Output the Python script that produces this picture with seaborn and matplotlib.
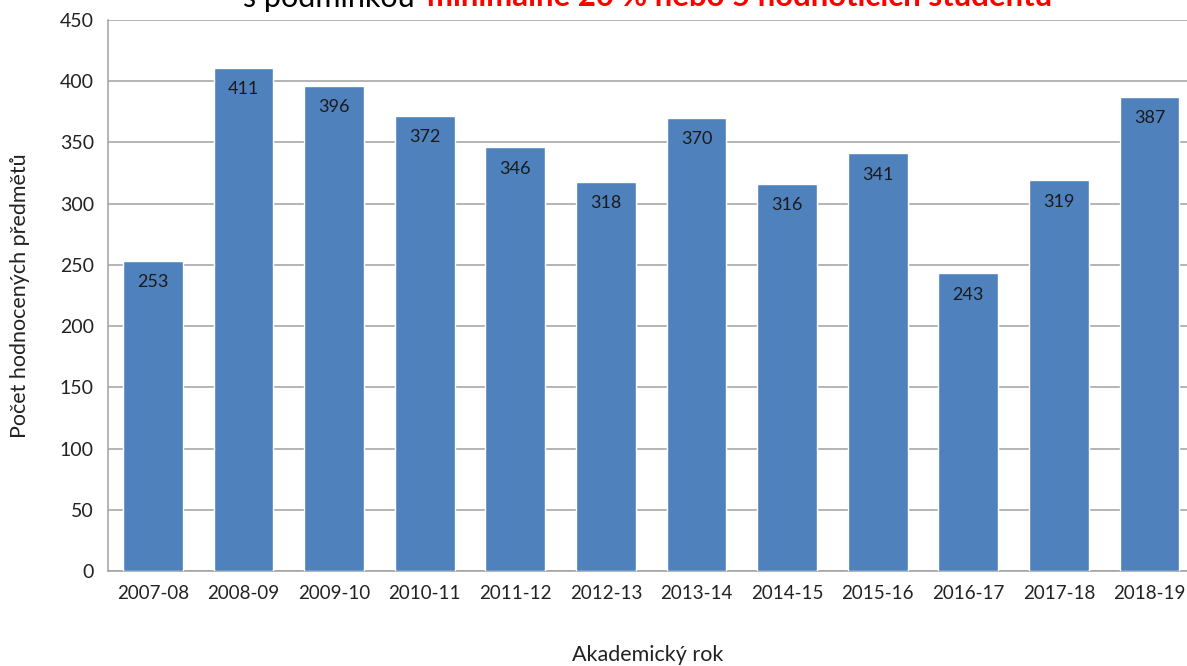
import matplotlib
matplotlib.use("Agg")
import matplotlib.pyplot as plt
import seaborn as sns
import pandas as pd
import numpy as np

# data
years = ['2007-08', '2008-09', '2009-10', '2010-11', '2011-12', '2012-13',
         '2013-14', '2014-15', '2015-16', '2016-17', '2017-18', '2018-19']
counts = [253, 411, 396, 372, 346, 318, 370, 316, 341, 243, 319, 387]

df = pd.DataFrame({'rok': years, 'pocet': counts})

sns.set_style('white')
plt.rcParams['font.family'] = ['Lato', 'DejaVu Sans']

fig = plt.figure(figsize=(11.87, 6.66), dpi=100)
ax = fig.add_axes([107.7 / 1187, 1 - 571 / 666, 1087 / 1187, 551 / 666])

sns.barplot(data=df, x='rok', y='pocet', color='#4F81BD', saturation=1,
            width=0.66, ax=ax, zorder=3)

# value labels inside the top of each bar
ax.bar_label(ax.containers[0], padding=-21, fontsize=13, color='#1a1a1a')

ax.set_ylim(0, 450)
ax.set_yticks(np.arange(0, 451, 50))
ax.set_xlim(-0.5, len(years) - 0.5)
ax.yaxis.grid(True, color='#a0a0a0', linewidth=1.1, zorder=0)
ax.set_axisbelow(True)

for side in ['top', 'right']:
    ax.spines[side].set_visible(False)
for side in ['left', 'bottom']:
    ax.spines[side].set_color('#a0a0a0')
    ax.spines[side].set_linewidth(1.1)

# ticks between categories on the x axis
ax.set_xticks(np.arange(-0.5, len(years)), minor=True)
ax.tick_params(axis='x', which='major', length=0, pad=10, labelsize=13.5,
               labelcolor='#222222')
ax.tick_params(axis='x', which='minor', length=5, color='#a0a0a0', width=1.1)
ax.tick_params(axis='y', length=5, color='#a0a0a0', width=1.1, pad=5,
               labelsize=14, labelcolor='#222222')

ax.set_xlabel('Akademický rok', fontsize=15.5, color='#222222')
ax.set_ylabel('Počet hodnocených předmětů', fontsize=15.5, color='#222222')
ax.xaxis.set_label_coords(0.497, -84 / 551)
ax.xaxis.label.set_va('center')
ax.yaxis.set_label_coords(-88 / 1087, 0.5)
ax.yaxis.label.set_va('center')

# title (cut at the top edge as in the original)
fig.text(243 / 1187, 1 - 6.5 / 666, 's podmínkou ', fontsize=22,
         color='black', ha='left', va='baseline')
fig.text(427 / 1187, 1 - 6.5 / 666, 'minimálně 20 % nebo 5 hodnotících studentů',
         fontsize=22.4, fontweight='bold', color='#ff0000', ha='left',
         va='baseline')

fig.savefig('out.png', dpi=100)
